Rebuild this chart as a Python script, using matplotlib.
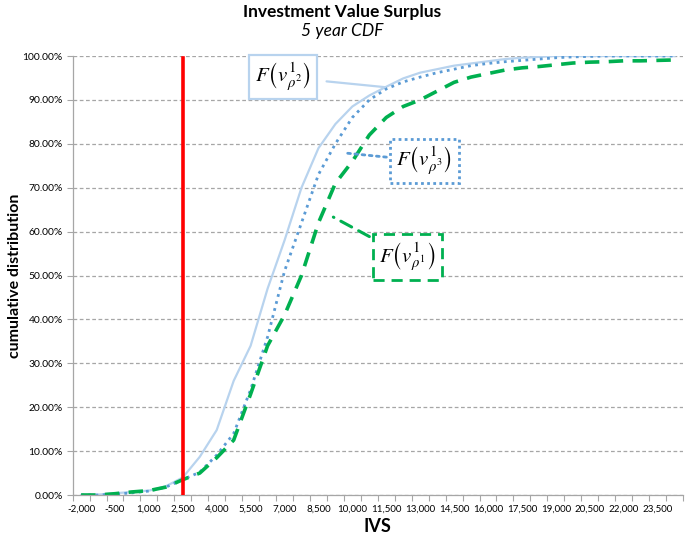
import matplotlib
matplotlib.use("Agg")
import matplotlib.pyplot as plt
import numpy as np
from matplotlib.ticker import FuncFormatter, MultipleLocator, FixedLocator

plt.rcParams['font.family'] = ['Lato', 'DejaVu Sans']
plt.rcParams['mathtext.fontset'] = 'stix'

# categories (IVS values)
ivs = list(range(-2000, 24251, 750))

cdf_rho2 = [0.0, 0.001, 0.004, 0.007, 0.010, 0.020, 0.040, 0.087, 0.148, 0.26, 0.34,
            0.47, 0.58, 0.70, 0.79, 0.845, 0.885, 0.91, 0.93, 0.949, 0.962, 0.970,
            0.978, 0.983, 0.988, 0.993, 0.996, 0.998, 1.0, 1.0, 1.0, 1.0, 1.0, 1.0, 1.0, 1.0]
cdf_rho3 = [0.0, 0.0, 0.002, 0.005, 0.009, 0.018, 0.035, 0.052, 0.091, 0.14, 0.24,
            0.36, 0.51, 0.62, 0.73, 0.80, 0.86, 0.90, 0.925, 0.941, 0.952, 0.962,
            0.970, 0.978, 0.983, 0.987, 0.990, 0.993, 0.996, 0.998, 0.999, 1.0, 1.0, 1.0, 1.0, 1.0]
cdf_rho1 = [0.0, 0.0, 0.003, 0.007, 0.010, 0.018, 0.035, 0.050, 0.085, 0.125, 0.23,
            0.34, 0.41, 0.50, 0.62, 0.71, 0.76, 0.82, 0.86, 0.885, 0.90, 0.92,
            0.94, 0.952, 0.960, 0.968, 0.973, 0.976, 0.980, 0.984, 0.986, 0.987, 0.989, 0.989, 0.990, 0.991]

threshold = 2500
xlabels = list(range(-2000, 23501, 1500))

fig = plt.figure(figsize=(6.85, 5.39), dpi=100)
ax = fig.add_axes([0.106, 0.0816, 0.891, 0.8145])

step = 750
ax.set_xlim(ivs[0] - step / 2, ivs[-1] + step / 2)
ax.set_ylim(0, 1)

ax.plot(ivs, cdf_rho2, color='#b8d3ee', lw=1.6, solid_joinstyle='round')
ax.plot(ivs, cdf_rho3, color='#5b9bd5', lw=2.0, linestyle=(0, (1, 1.6)))
ax.plot(ivs, cdf_rho1, color='#00b050', lw=2.6, linestyle=(0, (4, 2.6)))
ax.plot([threshold, threshold], [0.0, 0.995], color='#ff0000', lw=2.6, zorder=5)

# grid
ax.yaxis.set_major_locator(MultipleLocator(0.1))
ax.yaxis.set_major_formatter(FuncFormatter(lambda v, p: f"{v*100:.2f}%"))
ax.grid(axis='y', color='#a6a6a6', linestyle=(0, (3, 2)), lw=0.9)
ax.set_axisbelow(True)

ax.xaxis.set_major_locator(FixedLocator(xlabels))
ax.xaxis.set_major_formatter(FuncFormatter(lambda v, p: f"{int(v):,}"))
ax.xaxis.set_minor_locator(FixedLocator([ivs[0] - step / 2 + step * k for k in range(len(ivs) + 1)]))
ax.tick_params(axis='x', which='major', length=0, labelsize=7.0, pad=7, colors='#000000')
ax.tick_params(axis='x', which='minor', length=4, color='#a6a6a6', width=0.8)
ax.tick_params(axis='y', which='major', length=4, color='#a6a6a6', width=0.8, labelsize=7.4, pad=3)

for s in ['top', 'right']:
    ax.spines[s].set_visible(False)
for s in ['left', 'bottom']:
    ax.spines[s].set_color('#a6a6a6')
    ax.spines[s].set_linewidth(0.9)

ax.set_xlabel('IVS', fontsize=13, fontweight='bold')
ax.xaxis.set_label_coords(0.5, -0.052)
ax.set_ylabel('cumulative distribution', fontsize=11.5, fontweight='bold')
ax.yaxis.set_label_coords(-0.083, 0.5)

fig.text(0.5, 0.978, 'Investment Value Surplus', ha='center', va='center',
         fontsize=12.5, fontweight='bold')
fig.text(0.5, 0.942, '5 year CDF', ha='center', va='center',
         fontsize=12.5, style='italic')

def box(edge, ls):
    return dict(boxstyle='square,pad=0.3', fc='white', ec=edge, lw=2 if ls != '-' else 1.6, linestyle=ls)

ax.annotate(r'$F\left(v^{1}_{\rho^{2}}\right)$', xy=(11450, 0.929), xytext=(6940, 0.952),
            ha='center', va='center', fontsize=15,
            bbox=box('#b8d3ee', '-'),
            arrowprops=dict(arrowstyle='-', color='#b8d3ee', lw=1.6, shrinkA=6, shrinkB=0))
ax.annotate(r'$F\left(v^{1}_{\rho^{3}}\right)$', xy=(9690, 0.779), xytext=(13190, 0.761),
            ha='center', va='center', fontsize=15,
            bbox=box('#5b9bd5', (0, (1, 1.2))),
            arrowprops=dict(arrowstyle='-', color='#5b9bd5', lw=2, linestyle=(0, (1, 1.6)),
                            shrinkA=2, shrinkB=0))
ax.annotate(r'$F\left(v^{1}_{\rho^{1}}\right)$', xy=(9160, 0.633), xytext=(12430, 0.542),
            ha='center', va='center', fontsize=15,
            bbox=box('#00b050', (0, (4, 2.5))),
            arrowprops=dict(arrowstyle='-', color='#00b050', lw=2.2, linestyle=(0, (4, 2.6)),
                            shrinkA=2, shrinkB=0))

fig.savefig('out.png', dpi=100)
